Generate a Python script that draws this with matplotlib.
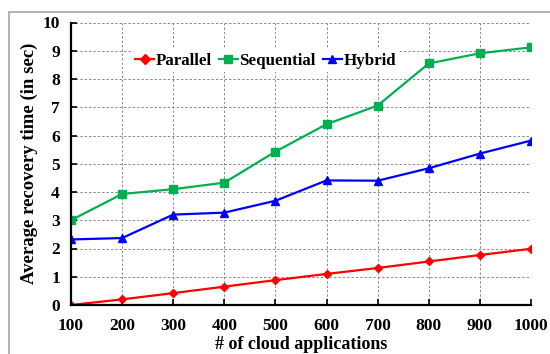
import matplotlib
matplotlib.use("Agg")
import matplotlib.pyplot as plt
from matplotlib.patches import Rectangle

# data
apps = [100, 200, 300, 400, 500, 600, 700, 800, 900, 1000]
parallel = [0.0, 0.2, 0.42, 0.65, 0.88, 1.1, 1.31, 1.54, 1.77, 1.99]
sequential = [3.0, 3.93, 4.1, 4.33, 5.43, 6.4, 7.06, 8.55, 8.91, 9.12]
hybrid = [2.32, 2.37, 3.2, 3.27, 3.69, 4.41, 4.4, 4.84, 5.36, 5.82]
yticks = list(range(0, 11))

plt.rcParams["font.family"] = ["Liberation Serif", "DejaVu Serif"]
plt.rcParams["font.weight"] = "bold"

fig = plt.figure(figsize=(5.5, 3.54), dpi=100)
ax = fig.add_axes([71 / 550, 1 - 305 / 354, 460 / 550, 282.5 / 354])

# gray frame around the figure
fig.patches.append(Rectangle((9 / 550, -0.05), 1.1, 1 - 12 / 354 + 0.05,
                             transform=fig.transFigure, fill=False,
                             edgecolor="#a6a6a6", linewidth=1.2))

ax.plot(apps, parallel, color="#ff0000", marker="D", markersize=4.5,
        linewidth=1.6, label="Parallel")
ax.plot(apps, sequential, color="#00b050", marker="s", markersize=6,
        linewidth=1.6, label="Sequential")
ax.plot(apps, hybrid, color="#0000ff", marker="^", markersize=6,
        linewidth=1.6, label="Hybrid")

ax.set_xlim(100, 1000)
ax.set_ylim(0, 10)
ax.set_xticks(apps)
ax.set_yticks(yticks)
ax.grid(True, color="#8c8c8c", linestyle=(0, (2.5, 2)), linewidth=0.7)
ax.set_axisbelow(True)
for s in ["top", "right"]:
    ax.spines[s].set_visible(False)
for s in ["left", "bottom"]:
    ax.spines[s].set_linewidth(1.6)
    ax.spines[s].set_color("black")
ax.tick_params(direction="in", length=4, width=1.2, labelsize=12.5)
ax.tick_params(axis="x", pad=9)
ax.tick_params(axis="y", pad=8)
for lbl in ax.get_xticklabels() + ax.get_yticklabels():
    lbl.set_fontweight("bold")

ax.set_xlabel("# of cloud applications", fontsize=13, fontweight="bold", labelpad=2)
ax.set_ylabel("Average recovery time (in sec)", fontsize=13.5, fontweight="bold", labelpad=3)

leg = ax.legend(loc="upper left", bbox_to_anchor=(0.113, 0.935), ncol=3,
                frameon=True, fancybox=False, edgecolor="none", framealpha=1,
                handlelength=1.15, handletextpad=0.08, columnspacing=0.4,
                borderpad=0.2, prop={"size": 12.2, "weight": "bold"})
for h in leg.legend_handles:
    h.set_markersize(5.5)

fig.savefig("out.png", dpi=100)
